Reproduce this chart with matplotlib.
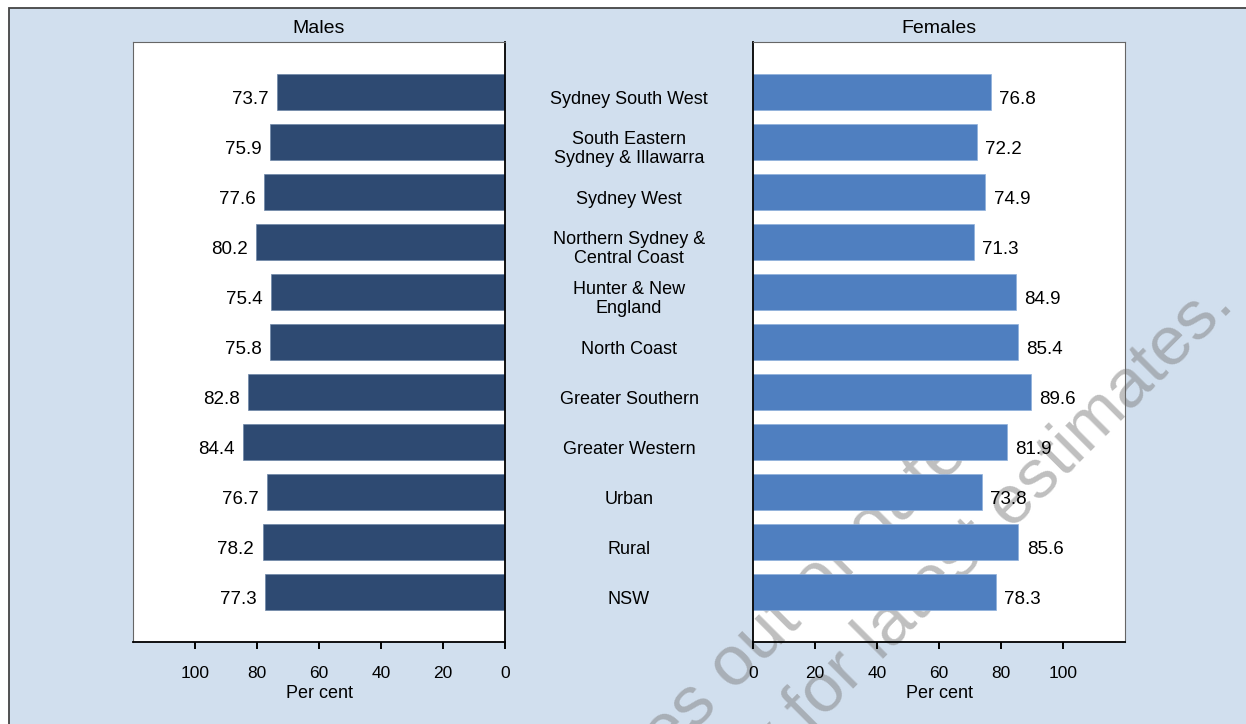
import matplotlib
matplotlib.use('Agg')
import matplotlib.pyplot as plt
import matplotlib.transforms as mtransforms
from matplotlib.patches import Rectangle

plt.rcParams['font.family'] = ['Liberation Sans', 'DejaVu Sans']

regions = ["Sydney South West", "South Eastern\nSydney & Illawarra", "Sydney West",
           "Northern Sydney &\nCentral Coast", "Hunter & New\nEngland", "North Coast",
           "Greater Southern", "Greater Western", "Urban", "Rural", "NSW"]
males = [73.7, 75.9, 77.6, 80.2, 75.4, 75.8, 82.8, 84.4, 76.7, 78.2, 77.3]
females = [76.8, 72.2, 74.9, 71.3, 84.9, 85.4, 89.6, 81.9, 73.8, 85.6, 78.3]
ticks = [0, 20, 40, 60, 80, 100]

W, H = 1246, 724
fig = plt.figure(figsize=(W / 100, H / 100), dpi=100, facecolor='white')

# light blue panel with frame (cropped on right/bottom)
fig.patches.append(Rectangle((9 / W, -0.1), 1.2, 1 - 8 / H + 0.1, transform=fig.transFigure,
                             facecolor='#d1dfee', edgecolor='#444444', linewidth=1.3, zorder=-10))

pos_m = [133 / W, 1 - 642 / H, 372 / W, 600 / H]
pos_f = [753 / W, 1 - 642 / H, 372 / W, 600 / H]
# white plot areas drawn at figure level so the watermark sits between them and the bars
for p in (pos_m, pos_f):
    fig.patches.append(Rectangle((p[0], p[1]), p[2], p[3], transform=fig.transFigure,
                                 facecolor='white', edgecolor='none', zorder=-5))

ax_m = fig.add_axes(pos_m)
ax_f = fig.add_axes(pos_f)

# watermark (behind bars, above white panels)
wm = dict(rotation=45, rotation_mode='anchor', ha='right', va='baseline',
          color='#808080', alpha=0.5, zorder=-1)
fig.text(984 / W, 1 - 441 / H, "These estimates out of date.", fontsize=51, **wm)
fig.text(1236 / W, 1 - 306 / H, "See HealthStats NSW directly for latest estimates.",
         fontsize=50, **wm)

y = list(range(len(regions)))
ax_m.barh(y, males, height=0.72, color='#2e4a72', edgecolor='#6d86a8', linewidth=0.5)
ax_f.barh(y, females, height=0.72, color='#4f7fc0', edgecolor='#8fb0dc', linewidth=0.5)

ax_m.set_xlim(120, 0)
ax_f.set_xlim(0, 120)

for ax, vals, title, inner, outer, sign in [(ax_m, males, 'Males', 'right', 'left', -1),
                                             (ax_f, females, 'Females', 'left', 'right', 1)]:
    ax.set_facecolor('none')
    ax.set_ylim(len(regions), -1)
    ax.set_yticks([])
    ax.set_xticks(ticks)
    ax.tick_params(axis='x', direction='out', length=5, width=1.4, pad=12, labelsize=12.5)
    ax.set_title(title, fontsize=14, pad=6.5)
    ax.set_xlabel('Per cent', fontsize=13, labelpad=3.5)
    ax.spines[inner].set_color('black')
    ax.spines[inner].set_linewidth(1.3)
    ax.spines['bottom'].set_color('black')
    ax.spines['bottom'].set_linewidth(1.3)
    ax.spines[outer].set_color('#666666')
    ax.spines['top'].set_color('#666666')
    for i, v in enumerate(vals):
        ax.annotate(f"{v:.1f}", (v, i + 0.16), xytext=(sign * 6, 0), textcoords='offset points',
                    ha='left' if sign > 0 else 'right', va='center', fontsize=13.5)

trans = mtransforms.blended_transform_factory(fig.transFigure, ax_m.transData)
for i, name in enumerate(regions):
    fig.text(629 / W, i + 0.14, name, transform=trans, ha='center', va='center', fontsize=13)

fig.savefig('out.png', dpi=100, facecolor='white')
